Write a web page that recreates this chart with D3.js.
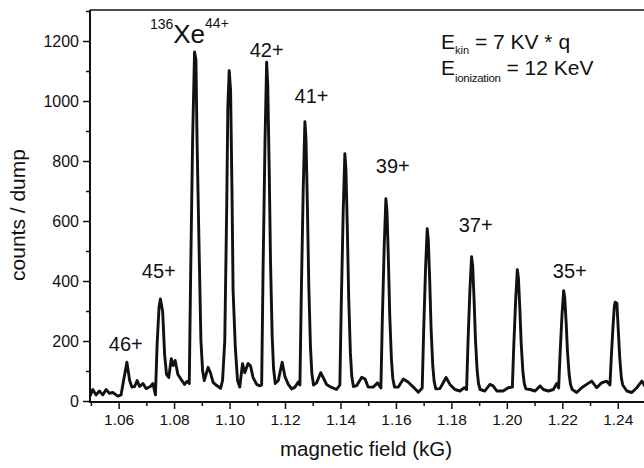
<!DOCTYPE html>
<html><head><meta charset="utf-8">
<script src="https://cdn.jsdelivr.net/npm/d3@7"></script>
<style>
html,body{margin:0;padding:0;background:#fff;}
svg{display:block;font-family:"Liberation Sans",Arial,Helvetica,sans-serif;}
</style></head>
<body><svg id="chart" width="644" height="468"></svg>
<script>
// magnetic field (kG) and counts / dump
const fieldKG = [
1.0495,1.0505,1.0517,1.0529,1.0541,1.0553,1.0565,1.0577,1.0589,1.0595,1.0607,1.0616,1.0628,1.0638,1.0646,1.0656,1.0665,1.0674,1.0686,1.0697,1.0713,1.0722,1.0731,
1.0737,1.0744,1.0749,1.0757,1.0764,1.0771,1.0779,1.0788,1.0795,1.0802,1.0812,1.0824,1.0836,1.0845,
1.0853,1.0858,1.0865,1.0872,1.0877,1.0881,1.0889,1.0895,1.0901,1.0907,1.0921,1.0930,1.0939,1.0951,1.0966,1.0973,
1.0981,1.0988,1.0992,1.0997,1.1002,1.1007,1.1011,1.1019,1.1027,1.1035,1.1045,1.1053,1.1065,1.1074,1.1083,1.1096,1.1107,
1.1114,1.1119,1.1126,1.1132,1.1136,1.1141,1.1146,1.1152,1.1157,1.1163,1.1174,1.1188,1.1198,1.1210,1.1222,1.1234,1.1246,
1.1252,1.1257,1.1264,1.1270,1.1274,1.1279,1.1284,1.1290,1.1295,1.1301,1.1312,1.1327,1.1336,1.1348,1.1366,1.1384,
1.1396,1.1401,1.1408,1.1414,1.1418,1.1423,1.1428,1.1434,1.1439,1.1445,1.1457,1.1475,1.1487,1.1498,1.1516,1.1532,
1.1544,1.1549,1.1556,1.1562,1.1566,1.1571,1.1576,1.1582,1.1587,1.1593,1.1607,1.1625,1.1643,1.1661,1.1679,
1.1693,1.1698,1.1705,1.1711,1.1715,1.1720,1.1725,1.1731,1.1736,1.1742,1.1757,1.1779,1.1793,1.1811,1.1829,1.1845,
1.1853,1.1858,1.1865,1.1871,1.1875,1.1880,1.1885,1.1891,1.1896,1.1902,1.1919,1.1937,1.1949,1.1962,1.1985,1.2003,
1.2018,1.2023,1.2030,1.2036,1.2040,1.2045,1.2050,1.2056,1.2061,1.2067,1.2082,1.2100,1.2118,1.2130,1.2148,1.2166,1.2178,
1.2185,1.2190,1.2197,1.2203,1.2207,1.2212,1.2217,1.2223,1.2228,1.2234,1.2250,1.2268,1.2286,1.2304,1.2322,1.2340,1.2358,
1.2370,1.2375,1.2381,1.2386,1.2389,1.2392,1.2395,1.2400,1.2405,1.2411,1.2416,1.2431,1.2449,1.2467,1.2485,1.2500
];
const counts = [
18,40,22,35,22,40,27,30,22,18,22,70,131,70,48,50,70,50,60,43,50,60,22,
190,315,342,300,157,90,80,143,120,137,90,73,57,67,
60,426,870,1165,1140,870,481,203,103,70,114,94,64,54,44,70,
203,648,981,1103,1037,703,370,181,70,48,126,96,127,118,80,57,52,
55,432,862,1131,1056,787,464,216,110,60,70,131,83,57,42,48,65,
55,359,712,933,871,650,386,182,94,55,62,96,80,57,47,40,
55,318,631,826,771,576,342,162,84,50,53,81,75,48,48,62,
45,266,518,676,632,474,285,140,77,48,48,75,64,48,31,
45,228,442,576,538,404,244,120,67,42,43,80,57,40,35,46,
40,194,372,483,452,341,207,105,60,40,35,57,52,35,35,46,
48,180,339,439,411,311,192,100,60,42,40,35,52,40,35,40,60,
45,155,287,369,346,264,165,89,56,40,30,46,57,68,46,62,68,
55,150,250,320,331,318,328,240,150,80,55,35,30,46,68,45
];
const xTickValues = [1.06,1.08,1.10,1.12,1.14,1.16,1.18,1.20,1.22,1.24];
const yTickValues = [0,200,400,600,800,1000,1200];
const chargeLabels = ["46+","45+","42+","41+","39+","37+","35+"];
const chargeLabelField = [1.0624,1.0743,1.1132,1.1294,1.1587,1.1886,1.2225];
const chargeLabelCount = [168,412,1149,994,761,566,413];

const svg = d3.select("#chart");
const x = d3.scaleLinear().domain([1.0495, 1.25]).range([90, 646]);
const y = d3.scaleLinear().domain([0, 1305]).range([401.5, 10]);

svg.append("defs").append("clipPath").attr("id","clip")
  .append("rect").attr("x",90).attr("y",10).attr("width",556).attr("height",392);

const pts = fieldKG.map((f,i)=>[f, counts[i]]);
svg.append("path").datum(pts)
  .attr("clip-path","url(#clip)")
  .attr("fill","none").attr("stroke","#111").attr("stroke-width",2.9)
  .attr("stroke-linejoin","round")
  .attr("d", d3.line().x(d=>x(d[0])).y(d=>y(d[1])));

// frame top
svg.append("line").attr("x1",90).attr("x2",644).attr("y1",10).attr("y2",10)
  .attr("stroke","#111").attr("stroke-width",1.6);

// y axis
const yMinor = d3.range(0, 1301, 100);
const gy = svg.append("g").attr("transform","translate(90,0)");
gy.append("line").attr("x1",0).attr("x2",0).attr("y1",10).attr("y2",402).attr("stroke","#111").attr("stroke-width",2);
gy.selectAll(".ym").data(yMinor).enter().append("line")
  .attr("x1",0).attr("x2",d=> d%200===0 ? -7 : -4)
  .attr("y1",d=>y(d)).attr("y2",d=>y(d)).attr("stroke","#111").attr("stroke-width",1.5);
gy.selectAll(".yl").data(yTickValues).enter().append("text")
  .attr("x",-11).attr("y",d=>y(d)).attr("dy","0.36em").attr("text-anchor","end")
  .attr("font-size",16).attr("fill","#111").text(d=>d);

// x axis
const xMinor = d3.range(105, 125).map(v=>v/100);
const gx = svg.append("g").attr("transform","translate(0,402)");
gx.append("line").attr("x1",89).attr("x2",644).attr("y1",0).attr("y2",0).attr("stroke","#111").attr("stroke-width",2);
gx.selectAll(".xm").data(xMinor).enter().append("line")
  .attr("x1",d=>x(d)).attr("x2",d=>x(d))
  .attr("y1",0).attr("y2",d=> (Math.round(d*100)%2===0) ? 7 : 4)
  .attr("stroke","#111").attr("stroke-width",1.5);
gx.selectAll(".xl").data(xTickValues).enter().append("text")
  .attr("x",d=>x(d)).attr("y",23).attr("text-anchor","middle")
  .attr("font-size",15.5).attr("fill","#111").text(d=>d.toFixed(2));

// axis titles
svg.append("text").attr("x",366).attr("y",456).attr("text-anchor","middle")
  .attr("font-size",20.5).attr("fill","#111").text("magnetic field (kG)");
svg.append("text").attr("transform","translate(25,215) rotate(-90)").attr("text-anchor","middle")
  .attr("font-size",21).attr("fill","#111").text("counts / dump");

// charge-state labels
chargeLabels.forEach((t,i)=>{
  svg.append("text").attr("x",x(chargeLabelField[i])).attr("y",y(chargeLabelCount[i]))
    .attr("text-anchor","middle").attr("font-size",20).attr("fill","#111").text(t);
});

// 136Xe44+ label
const xe = svg.append("text").attr("x",x(1.0711)).attr("y",y(1194)).attr("fill","#111");
xe.append("tspan").attr("font-size",14).attr("dy",-14).text("136");
xe.append("tspan").attr("font-size",26).attr("dy",14).text("Xe");
xe.append("tspan").attr("font-size",14).attr("dy",-15).text("44+");

// energy text
const e1 = svg.append("text").attr("x",441).attr("y",49).attr("fill","#111").attr("font-size",21);
e1.append("tspan").text("E");
e1.append("tspan").attr("font-size",11).attr("dy",5).text("kin");
e1.append("tspan").attr("dy",-5).text(" = 7 KV * q");
const e2 = svg.append("text").attr("x",441).attr("y",75).attr("fill","#111").attr("font-size",21);
e2.append("tspan").text("E");
e2.append("tspan").attr("font-size",11.5).attr("dy",7).attr("letter-spacing",-0.3).text("ionization");
e2.append("tspan").attr("dy",-7).text(" = 12 KeV");
</script>
</body></html>
